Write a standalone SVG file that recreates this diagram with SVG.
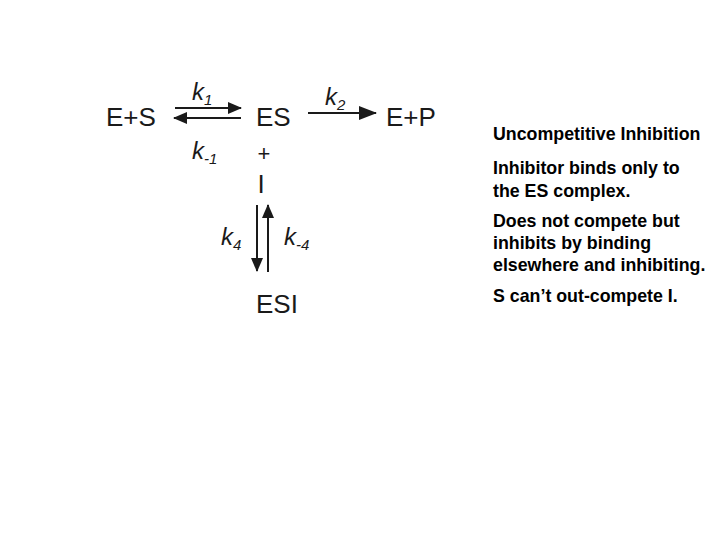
<svg xmlns="http://www.w3.org/2000/svg" width="720" height="540" viewBox="0 0 720 540">
<style>
.sp{font-family:"Liberation Sans",Arial,sans-serif;font-size:26px;fill:#1a1a1a}
.k{font-family:"Liberation Sans",Arial,sans-serif;font-style:italic;font-size:24px;fill:#1a1a1a}
.sub{font-size:15px}
.t{font-family:"Liberation Sans",Arial,sans-serif;font-weight:bold;font-size:17.8px;fill:#000}
.ln{stroke:#1a1a1a;stroke-width:2;fill:none}
</style>
<defs>
<marker id="ah2" markerWidth="14" markerHeight="12" refX="13" refY="6" orient="auto" markerUnits="userSpaceOnUse">
<path d="M0,0 L14,6 L0,12 Z" fill="#1a1a1a"/>
</marker>
<marker id="ah3" markerWidth="18" markerHeight="14" refX="17" refY="7" orient="auto" markerUnits="userSpaceOnUse">
<path d="M0,0 L18,7 L0,14 Z" fill="#1a1a1a"/>
</marker>
</defs>
<rect width="720" height="540" fill="#fff"/>
<g id="connectors">
<line class="ln" x1="175" y1="108" x2="241" y2="108" marker-end="url(#ah2)"/>
<line class="ln" x1="241" y1="118" x2="174" y2="118" marker-end="url(#ah2)"/>
<line class="ln" x1="308" y1="113" x2="376" y2="113" marker-end="url(#ah3)"/>
<line class="ln" x1="257" y1="205" x2="257" y2="271" marker-end="url(#ah2)"/>
<line class="ln" x1="268" y1="272" x2="268" y2="205" marker-end="url(#ah2)"/>
</g>
<g id="ES_S">
<text class="sp" x="106" y="126">E+S</text>
</g>
<g id="ES">
<text class="sp" x="256" y="126">ES</text>
</g>
<g id="EP">
<text class="sp" x="386" y="126">E+P</text>
</g>
<g id="plus">
<text class="sp" x="264" y="161" text-anchor="middle" style="font-size:22px">+</text>
</g>
<g id="I">
<text class="sp" x="261" y="193" text-anchor="middle">I</text>
</g>
<g id="ESI">
<text class="sp" x="256" y="313">ESI</text>
</g>
<g id="rates">
<text class="k" x="192" y="100">k<tspan class="sub" dy="5">1</tspan></text>
<text class="k" x="192" y="159">k<tspan class="sub" dy="5">-1</tspan></text>
<text class="k" x="325" y="105">k<tspan class="sub" dy="5">2</tspan></text>
<text class="k" x="221" y="245">k<tspan class="sub" dy="5">4</tspan></text>
<text class="k" x="284" y="245">k<tspan class="sub" dy="5">-4</tspan></text>
</g>
<g id="notes">
<text class="t" x="493" y="140">Uncompetitive Inhibition</text>
<text class="t" x="493" y="174">Inhibitor binds only to</text>
<text class="t" x="493" y="197">the ES complex.</text>
<text class="t" x="493" y="227">Does not compete but</text>
<text class="t" x="493" y="249">inhibits by binding</text>
<text class="t" x="493" y="271">elsewhere and inhibiting.</text>
<text class="t" x="493" y="302">S can’t out-compete I.</text>
</g>
</svg>
